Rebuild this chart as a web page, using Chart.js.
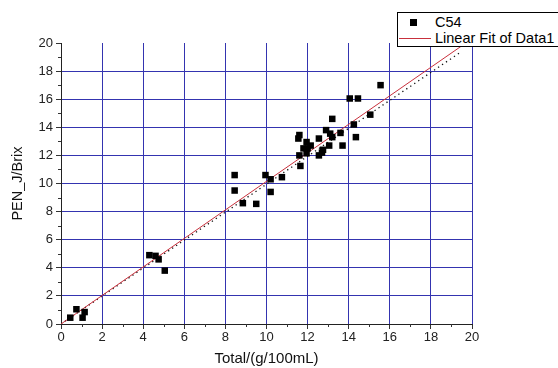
<!DOCTYPE html>
<html>
<head>
<meta charset="utf-8">
<script src="https://cdn.jsdelivr.net/npm/chart.js@4/dist/chart.umd.min.js"></script>
<style>
  body { margin: 0; background: #fff; }
  #wrap { position: relative; width: 558px; height: 368px; overflow: hidden; }
  #legend {
    position: absolute; left: 397px; top: 12px; width: 175px; height: 33px;
    border: 1px solid #000; background: #fff;
    font-family: Arial, "Liberation Sans", sans-serif; font-size: 14.5px; color: #000;
  }
  #legend .row { position: absolute; left: 0; height: 16px; line-height: 16px; }
  #legend .sq { position: absolute; left: 12px; top: 5px; width: 7px; height: 7px; background: #000; }
  #legend .ln { position: absolute; left: 1px; top: 8px; width: 32px; height: 1px; background: #c8303c; }
  #legend .tx { position: absolute; left: 37px; top: 0; white-space: nowrap; }
</style>
</head>
<body>
<div id="wrap">
  <canvas id="chart" width="558" height="368"></canvas>
  <div id="legend">
    <div class="row" style="top:1px"><span class="sq"></span><span class="tx">C54</span></div>
    <div class="row" style="top:17px"><span class="ln"></span><span class="tx">Linear Fit of Data1</span></div>
  </div>
</div>
<script>
// measured data (C54)
const pointsX = [0.45, 0.75, 1.05, 1.15, 4.3, 4.6, 4.75, 5.05, 8.45, 8.45, 8.85, 9.5, 9.95, 10.2, 10.2, 10.75,
  11.55, 11.6, 11.6, 11.65, 11.8, 11.95, 11.95, 12.0, 12.15, 12.55, 12.55, 12.7, 12.75, 12.9, 13.05, 13.1,
  13.2, 13.2, 13.6, 13.7, 14.05, 14.45, 14.25, 14.35, 15.05, 15.55];
const pointsY = [0.45, 1.05, 0.45, 0.85, 4.9, 4.85, 4.6, 3.8, 10.6, 9.5, 8.6, 8.55, 10.6, 10.3, 9.4, 10.45,
  13.2, 13.45, 12.0, 11.25, 12.5, 12.95, 12.15, 12.5, 12.7, 13.2, 12.0, 12.2, 12.4, 13.8, 12.7, 13.55,
  13.3, 14.6, 13.6, 12.7, 16.05, 16.05, 14.2, 13.3, 14.9, 17.0];

// linear fit and the y = x reference line
const fitX = [0, 19.7];
const fitY = [0, 20];
const refX = [0, 19.5];
const refY = [0, 19.4];

const axisTicks = [0, 2, 4, 6, 8, 10, 12, 14, 16, 18, 20];

const gridColor = '#3434b0';
const fontFamily = 'Arial, "Liberation Sans", sans-serif';

document.addEventListener('DOMContentLoaded', () => {
  const ctx = document.getElementById('chart').getContext('2d');

  const toPts = (xs, ys) => xs.map((x, i) => ({ x: x, y: ys[i] }));

  // short minor ticks at odd values
  const minorTicks = {
    id: 'minorTicks',
    afterDraw(chart) {
      const c = chart.ctx;
      const xs = chart.scales.x, ys = chart.scales.y;
      c.save();
      c.strokeStyle = '#333';
      c.lineWidth = 1;
      c.beginPath();
      for (let v = 1; v < 20; v += 2) {
        const px = Math.round(xs.getPixelForValue(v)) + 0.5;
        c.moveTo(px, xs.top);
        c.lineTo(px, xs.top + 3);
        const py = Math.round(ys.getPixelForValue(v)) + 0.5;
        c.moveTo(ys.right, py);
        c.lineTo(ys.right - 3, py);
      }
      c.stroke();
      c.restore();
    }
  };

  new Chart(ctx, {
    type: 'scatter',
    data: {
      datasets: [
        {
          label: 'C54',
          data: toPts(pointsX, pointsY),
          pointStyle: 'rect',
          pointRadius: 4.6,
          backgroundColor: '#000',
          borderColor: '#000',
          borderWidth: 0,
          order: 0
        },
        {
          label: 'Linear Fit of Data1',
          type: 'line',
          data: toPts(fitX, fitY),
          borderColor: '#c8303c',
          borderWidth: 1,
          pointRadius: 0,
          order: 1
        },
        {
          label: 'ref',
          type: 'line',
          data: toPts(refX, refY),
          borderColor: '#111',
          borderWidth: 1.3,
          borderDash: [1.3, 3.5],
          pointRadius: 0,
          order: 2
        }
      ]
    },
    options: {
      responsive: false,
      animation: false,
      layout: { padding: { left: 0, top: 43, right: 86, bottom: 0 } },
      plugins: { legend: { display: false }, tooltip: { enabled: false } },
      scales: {
        x: {
          type: 'linear',
          min: 0,
          max: 20,
          afterFit: (s) => { s.height = 44; },
          afterBuildTicks: (s) => { s.ticks = axisTicks.map(v => ({ value: v })); },
          border: { color: '#222', width: 1 },
          grid: {
            color: (c) => (c.tick && c.tick.value > 0 ? gridColor : 'transparent'),
            tickColor: '#333',
            tickLength: 5,
            lineWidth: 1
          },
          ticks: { color: '#222', font: { family: fontFamily, size: 13 }, padding: 1, maxRotation: 0 },
          title: {
            display: true,
            text: 'Total/(g/100mL)',
            color: '#111',
            font: { family: fontFamily, size: 15 },
            padding: { top: 2, bottom: 0 }
          }
        },
        y: {
          type: 'linear',
          min: 0,
          max: 20,
          afterFit: (s) => { s.width = 61; },
          afterBuildTicks: (s) => { s.ticks = axisTicks.map(v => ({ value: v })); },
          border: { color: '#222', width: 1 },
          grid: {
            color: (c) => (c.tick && c.tick.value > 0 && c.tick.value < 20 ? gridColor : 'transparent'),
            tickColor: '#333',
            tickLength: 5,
            lineWidth: 1
          },
          ticks: { color: '#222', font: { family: fontFamily, size: 13 }, padding: 3 },
          title: {
            display: true,
            text: 'PEN_J/Brix',
            color: '#111',
            font: { family: fontFamily, size: 14.5 },
            padding: { top: 9, bottom: 0 }
          }
        }
      }
    },
    plugins: [minorTicks]
  });
});
</script>
</body>
</html>
